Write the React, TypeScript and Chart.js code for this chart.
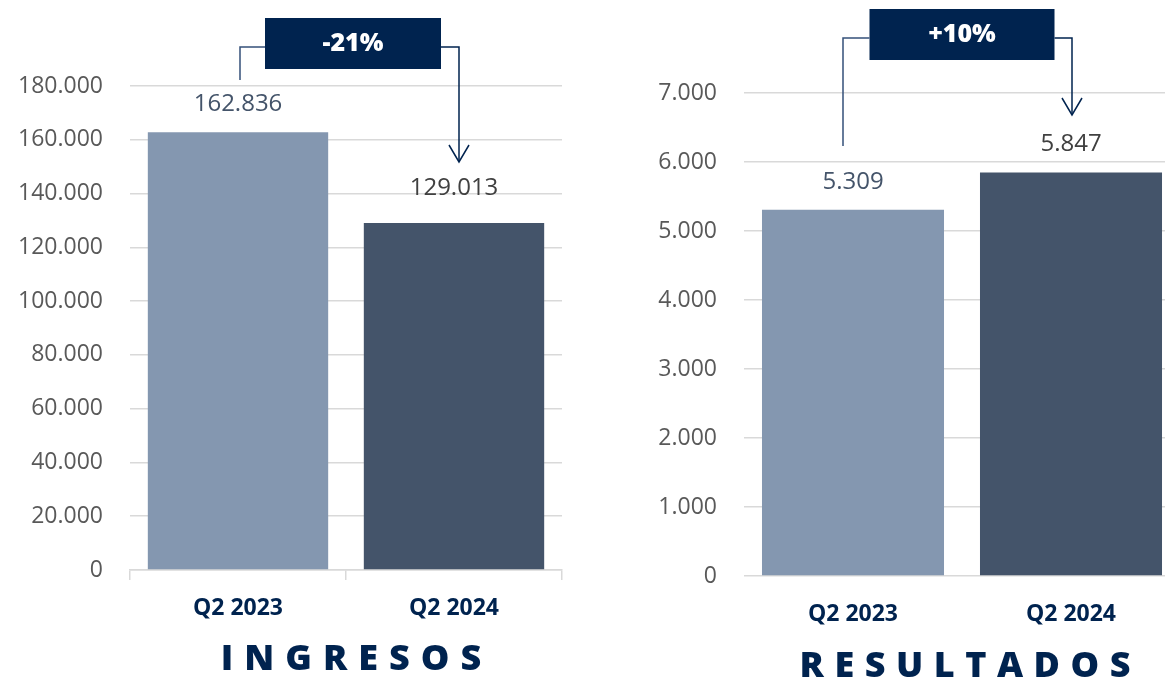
import React, { useEffect, useRef } from "react";
import { Chart, registerables } from "chart.js";

Chart.register(...registerables);

// ---------- data ----------
const categories = ["Q2 2023", "Q2 2024"];
const ingresosValues = [162836, 129013];
const resultadosValues = [5309, 5847];
const ingresosMax = 180000;
const ingresosStep = 20000;
const resultadosMax = 7000;
const resultadosStep = 1000;
const ingresosTitle = "INGRESOS";
const resultadosTitle = "RESULTADOS";
const ingresosChange = "-21%";
const resultadosChange = "+10%";

// ---------- styles ----------
const FONT = "'Open Sans', 'Noto Sans', sans-serif";
const NAVY = "#00234f";
const barColors = ["#8497B0", "#44546A"];
const valueLabelColors = ["#44546A", "#404040"];
const GRID = "#d9d9d9";

const fmt = (n: number) =>
  String(Math.round(n)).replace(/\B(?=(\d{3})+(?!\d))/g, ".");

const decorPlugin = {
  id: "decor",
  afterDatasetsDraw(chart: any, _args: any, o: any) {
    const ctx = chart.ctx;
    const area = chart.chartArea;
    const bars = chart.getDatasetMeta(0).data;
    const data = chart.data.datasets[0].data;
    ctx.save();
    // value labels
    ctx.font = `400 24px ${FONT}`;
    ctx.textAlign = "center";
    ctx.textBaseline = "middle";
    bars.forEach((bar: any, i: number) => {
      ctx.fillStyle = valueLabelColors[i];
      ctx.fillText(fmt(data[i]), bar.x, bar.y - o.labelGaps[i]);
    });

    // annotation box
    const mid = (bars[0].x + bars[1].x) / 2 + o.boxDx;
    const bx = mid - o.boxW / 2;
    ctx.fillStyle = NAVY;
    ctx.fillRect(bx, o.boxTop, o.boxW, o.boxH);
    ctx.fillStyle = "#ffffff";
    ctx.font = `800 25px ${FONT}`;
    ctx.fillText(o.change, mid, o.boxTop + o.boxH / 2);

    // connectors
    const lx = bars[0].x + o.leftDx;
    const rx = bars[1].x + o.rightDx;
    ctx.lineWidth = 1.5;
    ctx.strokeStyle = "#34507a";
    ctx.beginPath();
    ctx.moveTo(lx, o.leftBottom);
    ctx.lineTo(lx, o.connY);
    ctx.lineTo(bx, o.connY);
    ctx.stroke();
    ctx.strokeStyle = NAVY;
    ctx.beginPath();
    ctx.moveTo(bx + o.boxW, o.connY);
    ctx.lineTo(rx, o.connY);
    ctx.lineTo(rx, o.arrowTip);
    ctx.stroke();
    ctx.beginPath();
    ctx.moveTo(rx - 10, o.arrowTip - 17);
    ctx.lineTo(rx, o.arrowTip);
    ctx.lineTo(rx + 10, o.arrowTip - 17);
    ctx.stroke();

    // title
    ctx.fillStyle = NAVY;
    ctx.font = `800 36px ${FONT}`;
    (ctx as any).letterSpacing = `${o.titleSpacing}px`;
    ctx.textAlign = "left";
    const w = ctx.measureText(o.title).width - o.titleSpacing;
    const cx = (area.left + area.right) / 2 + o.titleDx;
    ctx.fillText(o.title, cx - w / 2, o.titleY);
    ctx.restore();
  },
};

type Cfg = {
  values: number[];
  max: number;
  step: number;
  width: number;
  yAxisWidth: number;
  padRight: number;
  top: number;
  bottom: number;
  xTicks: boolean;
  decor: any;
};

function BarPanel({ cfg }: { cfg: Cfg }) {
  const ref = useRef<HTMLCanvasElement>(null);
  useEffect(() => {
    if (!ref.current) return;
    const chart = new Chart(ref.current, {
      type: "bar",
      data: {
        labels: categories,
        datasets: [
          {
            data: cfg.values,
            backgroundColor: barColors,
            barPercentage: 0.835,
            categoryPercentage: 1,
          },
        ],
      },
      options: {
        animation: false,
        responsive: false,
        layout: { padding: { top: cfg.top, right: cfg.padRight, left: 0, bottom: 0 } },
        plugins: {
          legend: { display: false },
          tooltip: { enabled: false },
          decor: cfg.decor,
        } as any,
        scales: {
          x: {
            offset: true,
            grid: {
              display: cfg.xTicks,
              drawOnChartArea: false,
              drawTicks: cfg.xTicks,
              tickLength: 10,
              color: GRID,
              lineWidth: 1.5,
              offset: true,
            },
            border: { display: cfg.xTicks, color: GRID, width: 1.5 },
            ticks: {
              font: { family: FONT, size: 23, weight: "bold" },
              color: NAVY,
              padding: cfg.xTicks ? 15 : 25,
            },
            afterFit: (s: any) => {
              s.height = 684 - cfg.bottom;
            },
          },
          y: {
            min: 0,
            max: cfg.max,
            ticks: {
              stepSize: cfg.step,
              callback: (v: any) => fmt(Number(v)),
              font: { family: FONT, size: 23 },
              color: "#595959",
              padding: 27,
            },
            grid: { color: GRID, lineWidth: 1.5, drawTicks: false },
            border: { display: false },
            afterFit: (s: any) => {
              s.width = cfg.yAxisWidth;
            },
          },
        } as any,
      },
      plugins: [decorPlugin],
    });
    return () => chart.destroy();
  }, [cfg]);
  return <canvas ref={ref} width={cfg.width} height={684} style={{ display: "block" }} />;
}

const leftCfg: Cfg = {
  values: ingresosValues,
  max: ingresosMax,
  step: ingresosStep,
  width: 580,
  yAxisWidth: 130,
  padRight: 18,
  top: 86,
  bottom: 570,
  xTicks: true,
  decor: {
    labelGaps: [28, 35],
    change: ingresosChange,
    boxDx: 7,
    boxW: 176,
    boxTop: 18,
    boxH: 51,
    connY: 47,
    leftDx: 2,
    leftBottom: 80,
    rightDx: 5,
    arrowTip: 162,
    title: ingresosTitle,
    titleSpacing: 11,
    titleDx: 5,
    titleY: 660,
  },
};

const rightCfg: Cfg = {
  values: resultadosValues,
  max: resultadosMax,
  step: resultadosStep,
  width: 590,
  yAxisWidth: 144,
  padRight: 10,
  top: 93,
  bottom: 576,
  xTicks: false,
  decor: {
    labelGaps: [28, 28],
    change: resultadosChange,
    boxDx: 0,
    boxW: 185,
    boxTop: 9,
    boxH: 51,
    connY: 38,
    leftDx: -10,
    leftBottom: 146,
    rightDx: 1,
    arrowTip: 115,
    title: resultadosTitle,
    titleSpacing: 10.5,
    titleDx: 3,
    titleY: 667,
  },
};

export default function App() {
  return (
    <div
      style={{
        position: "absolute",
        left: 0,
        top: 0,
        width: 1165,
        height: 684,
        overflow: "hidden",
        background: "#ffffff",
      }}
    >
      <div style={{ position: "absolute", left: 0, top: 0 }}>
        <BarPanel cfg={leftCfg} />
      </div>
      <div style={{ position: "absolute", left: 600, top: 0 }}>
        <BarPanel cfg={rightCfg} />
      </div>
    </div>
  );
}
